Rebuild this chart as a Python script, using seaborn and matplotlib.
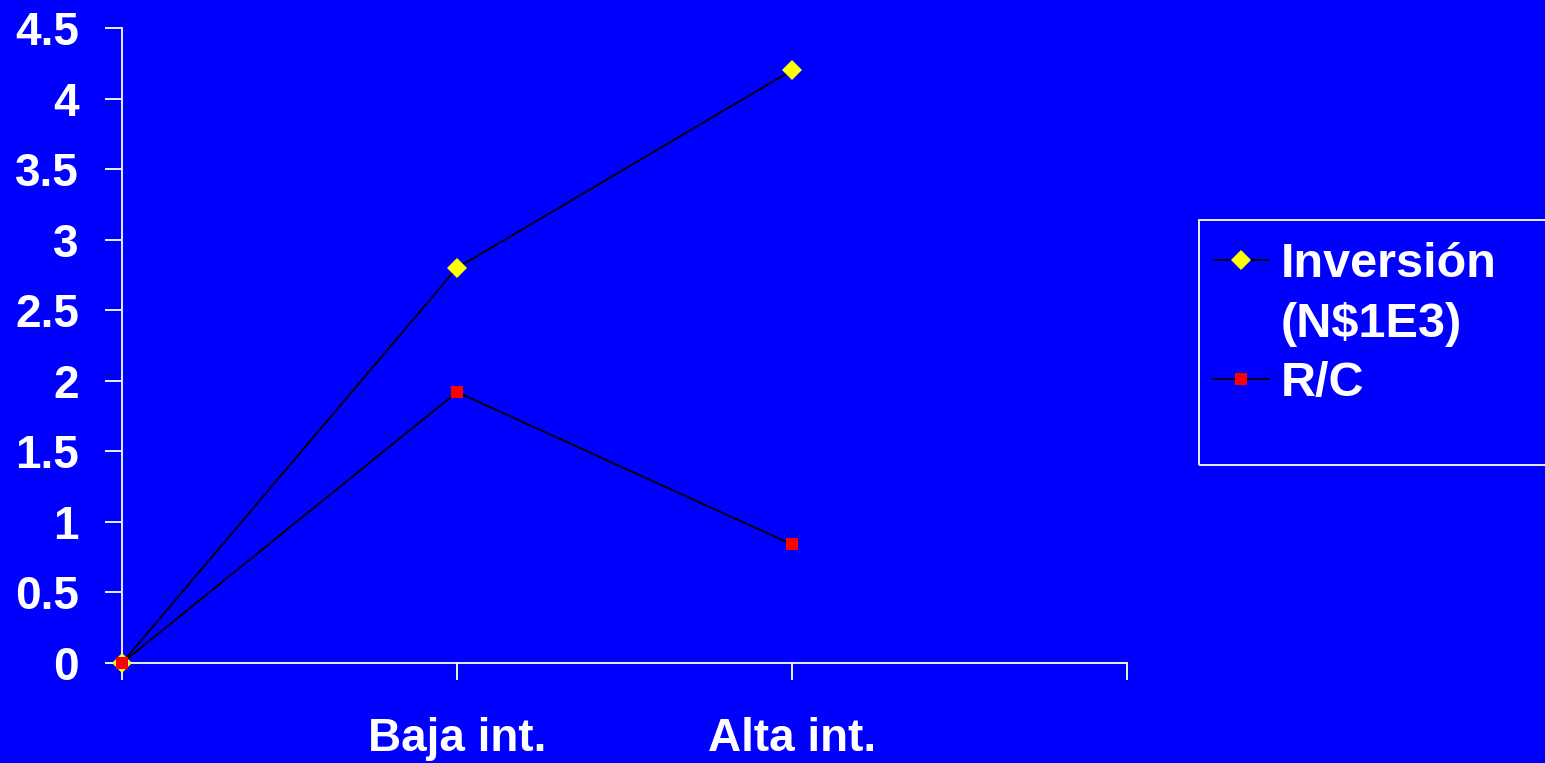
import pandas as pd
import matplotlib
matplotlib.use("Agg")
from matplotlib import pyplot as plt
from matplotlib.lines import Line2D
from matplotlib.patches import Rectangle
import seaborn as sns

categories = ["", "Baja int.", "Alta int."]
inversion = [0.0, 2.8, 4.2]
rc = [0.0, 1.92, 0.84]
y_ticks = [0, 0.5, 1, 1.5, 2, 2.5, 3, 3.5, 4, 4.5]
x_tick_labels = ["", "Baja int.", "Alta int.", ""]
legend_labels = ["Inversión", r"(N\$1E3)", "R/C"]


def main():
    sns.set_style("white")
    plt.rcParams["font.family"] = ["Liberation Sans", "DejaVu Sans"]
    plt.rcParams["font.weight"] = "bold"

    blue = "#0000FF"
    data = pd.DataFrame({
        "pos": list(range(len(categories))) * 2,
        "valor": inversion + rc,
        "serie": ["Inversión"] * 3 + ["R/C"] * 3,
    })

    fig = plt.figure(figsize=(15.45, 7.63), dpi=100, facecolor=blue)
    ax = fig.add_axes([122 / 1545, 1 - 663 / 763, (1127 - 122) / 1545, (663 - 28) / 763])
    ax.set_facecolor(blue)

    inv = data[data["serie"] == "Inversión"]
    sns.lineplot(data=inv, x="pos", y="valor", ax=ax, color="black", lw=1.3,
                 marker="D", markersize=10, markerfacecolor="#FFFF00",
                 markeredgecolor="#FFFF00", markeredgewidth=0,
                 label=legend_labels[0], clip_on=False, zorder=3)
    r = data[data["serie"] == "R/C"]
    sns.lineplot(data=r, x="pos", y="valor", ax=ax, color="black", lw=1.3,
                 marker="s", markersize=9, markerfacecolor="#FF0000",
                 markeredgecolor="#FF0000", markeredgewidth=0,
                 label=legend_labels[2], clip_on=False, zorder=3)

    ax.set_xlim(0, 3)
    ax.set_ylim(0, 4.5)
    ax.set_xticks(range(len(x_tick_labels)))
    ax.set_xticklabels(x_tick_labels)
    ax.set_yticks(y_ticks)
    ax.set_yticklabels([f"{t:g}" for t in y_ticks])
    ax.set_xlabel("")
    ax.set_ylabel("")

    for side in ["top", "right"]:
        ax.spines[side].set_visible(False)
    for side in ["left", "bottom"]:
        ax.spines[side].set_color("white")
        ax.spines[side].set_linewidth(1.3)

    ax.tick_params(axis="y", direction="out", length=12, width=1.3, color="white",
                   labelcolor="white", labelsize=33, pad=19, left=True)
    ax.tick_params(axis="x", direction="out", length=12, width=1.3, color="white",
                   labelcolor="white", labelsize=33, pad=27, bottom=True)
    for lab in ax.get_xticklabels() + ax.get_yticklabels():
        lab.set_fontweight("bold")

    # legend: second label line gets an empty handle so the marker sits on the first line
    handles, _ = ax.get_legend_handles_labels()
    blank = Line2D([], [], linestyle="none", marker=None)
    leg = ax.legend([handles[0], blank, handles[1]], legend_labels,
                    loc="upper left", bbox_to_anchor=(1213 / 1545, 1 - 242 / 763),
                    bbox_transform=fig.transFigure, frameon=False, borderpad=0,
                    borderaxespad=0, handlelength=1.15, handletextpad=0.25,
                    labelspacing=0.3, prop={"size": 35, "weight": "bold"})
    for t in leg.get_texts():
        t.set_color("white")

    fig.patches.append(Rectangle((1199 / 1545, 1 - 465 / 763), 400 / 1545, 245 / 763,
                                 transform=fig.transFigure, fill=False,
                                 edgecolor="white", lw=1.3))

    fig.savefig("out.png", dpi=100, facecolor=blue)


if __name__ == '__main__':
    main()
